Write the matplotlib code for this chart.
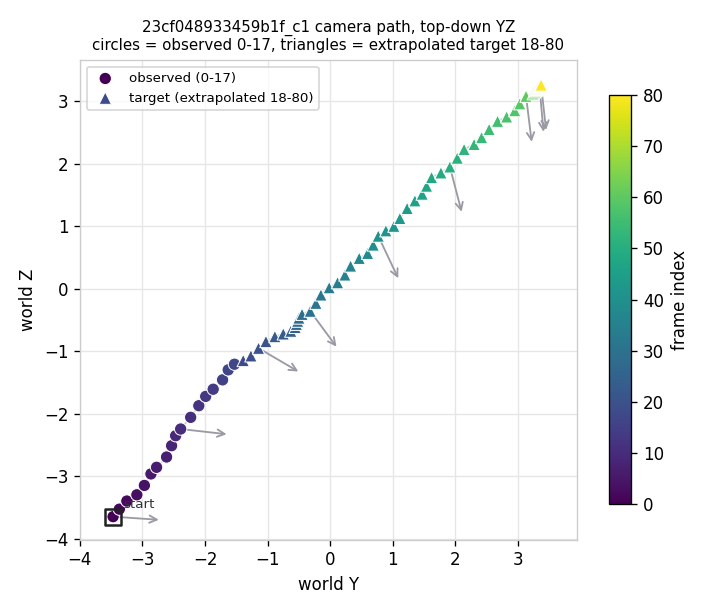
import numpy as np
import matplotlib
matplotlib.use("Agg")
import matplotlib.pyplot as plt

# observed camera positions, frames 0-17
obs_y = [-3.47, -3.37, -3.25, -3.09, -2.97, -2.865, -2.775, -2.615, -2.535,
         -2.47, -2.39, -2.23, -2.10, -1.99, -1.87, -1.72, -1.63, -1.53]
obs_z = [-3.65, -3.53, -3.40, -3.30, -3.15, -2.966, -2.86, -2.695, -2.514,
         -2.354, -2.247, -2.06, -1.874, -1.725, -1.61, -1.46, -1.30, -1.21]

# extrapolated target positions, frames 18-80
tgt_y = [-1.39, -1.267, -1.145, -1.027, -0.884, -0.75, -0.63, -0.56, -0.54, -0.52,
         -0.50, -0.45, -0.32, -0.228, -0.148, -0.016, 0.118, 0.235, 0.326, 0.464,
         0.598, 0.688, 0.768, 0.89, 1.018, 1.114, 1.23, 1.354, 1.47, 1.54,
         1.62, 1.77, 1.913, 2.03, 2.14, 2.30, 2.42, 2.54, 2.675, 2.82,
         2.95, 3.03, 3.13, 3.245, 3.27, 3.29, 3.30, 3.31, 3.32, 3.33,
         3.335, 3.34, 3.345, 3.35, 3.352, 3.355, 3.357, 3.36, 3.362, 3.364,
         3.366, 3.368, 3.37]
tgt_z = [-1.15, -1.075, -0.953, -0.846, -0.767, -0.724, -0.68, -0.62, -0.57, -0.52,
         -0.47, -0.41, -0.36, -0.233, -0.10, 0.016, 0.096, 0.22, 0.363, 0.486,
         0.566, 0.699, 0.842, 0.927, 1.0, 1.125, 1.285, 1.407, 1.514, 1.642,
         1.78, 1.854, 1.95, 2.09, 2.23, 2.31, 2.42, 2.55, 2.68, 2.75,
         2.85, 2.96, 3.08, 3.12, 3.15, 3.17, 3.18, 3.19, 3.20, 3.21,
         3.215, 3.22, 3.225, 3.23, 3.235, 3.24, 3.243, 3.246, 3.249, 3.252,
         3.255, 3.257, 3.26]

# heading arrows every 10 frames (tip positions)
arrow_frames = [0, 10, 20, 30, 40, 50, 60, 70, 80]
arrow_tip_y = [-2.74, -1.656, -0.51, 0.10, 1.087, 2.10, 3.22, 3.41, 3.45]
arrow_tip_z = [-3.70, -2.33, -1.326, -0.93, 0.166, 1.23, 2.35, 2.51, 2.54]

obs_f = np.arange(len(obs_y))
tgt_f = np.arange(len(obs_y), len(obs_y) + len(tgt_y))
all_y = np.array(obs_y + tgt_y)
all_z = np.array(obs_z + tgt_z)

fig = plt.figure(figsize=(6, 5.1), dpi=120)
ax = fig.add_axes([0.111, 0.118, 0.690, 0.784])

ax.grid(True, color="#e6e6e6", lw=0.8, zorder=0)
ax.set_axisbelow(True)
for sp in ax.spines.values():
    sp.set_color("#cccccc")

ax.plot(all_y, all_z, color="#c8c8d0", lw=1.0, zorder=1)

for f, ty, tz in zip(arrow_frames, arrow_tip_y, arrow_tip_z):
    ax.annotate("", xy=(ty, tz), xytext=(all_y[f], all_z[f]),
                arrowprops=dict(arrowstyle="->", color="#9a9aa4", lw=1.1,
                                shrinkA=0, shrinkB=0, mutation_scale=11),
                zorder=2)

sc = ax.scatter(obs_y, obs_z, c=obs_f, cmap="viridis", vmin=0, vmax=80,
                marker="o", s=55, edgecolors="white", linewidths=0.6,
                label="observed (0-17)", zorder=3)
ax.scatter(tgt_y, tgt_z, c=tgt_f, cmap="viridis", vmin=0, vmax=80,
           marker="^", s=55, edgecolors="white", linewidths=0.6,
           label="target (extrapolated 18-80)", zorder=3)

ax.scatter([obs_y[0]], [obs_z[0]], marker="s", s=90, facecolors="none",
           edgecolors="#222222", linewidths=1.5, zorder=4)
ax.annotate("start", (obs_y[0], obs_z[0]), xytext=(6, 5),
            textcoords="offset points", fontsize=8, color="#333333")

ax.set_xlim(-4.0, 3.94)
ax.set_ylim(-4.02, 3.66)
ax.set_xticks(range(-4, 4))
ax.set_yticks(range(-4, 4))
ax.set_xlabel("world Y")
ax.set_ylabel("world Z")
ax.set_title("23cf048933459b1f_c1 camera path, top-down YZ\n"
             "circles = observed 0-17, triangles = extrapolated target 18-80",
             fontsize=9)
ax.legend(loc="upper left", fontsize=8)

cax = fig.add_axes([0.846, 0.1765, 0.0306, 0.668])
cb = fig.colorbar(sc, cax=cax)
cb.set_label("frame index")

fig.savefig("out.png", dpi=120)
